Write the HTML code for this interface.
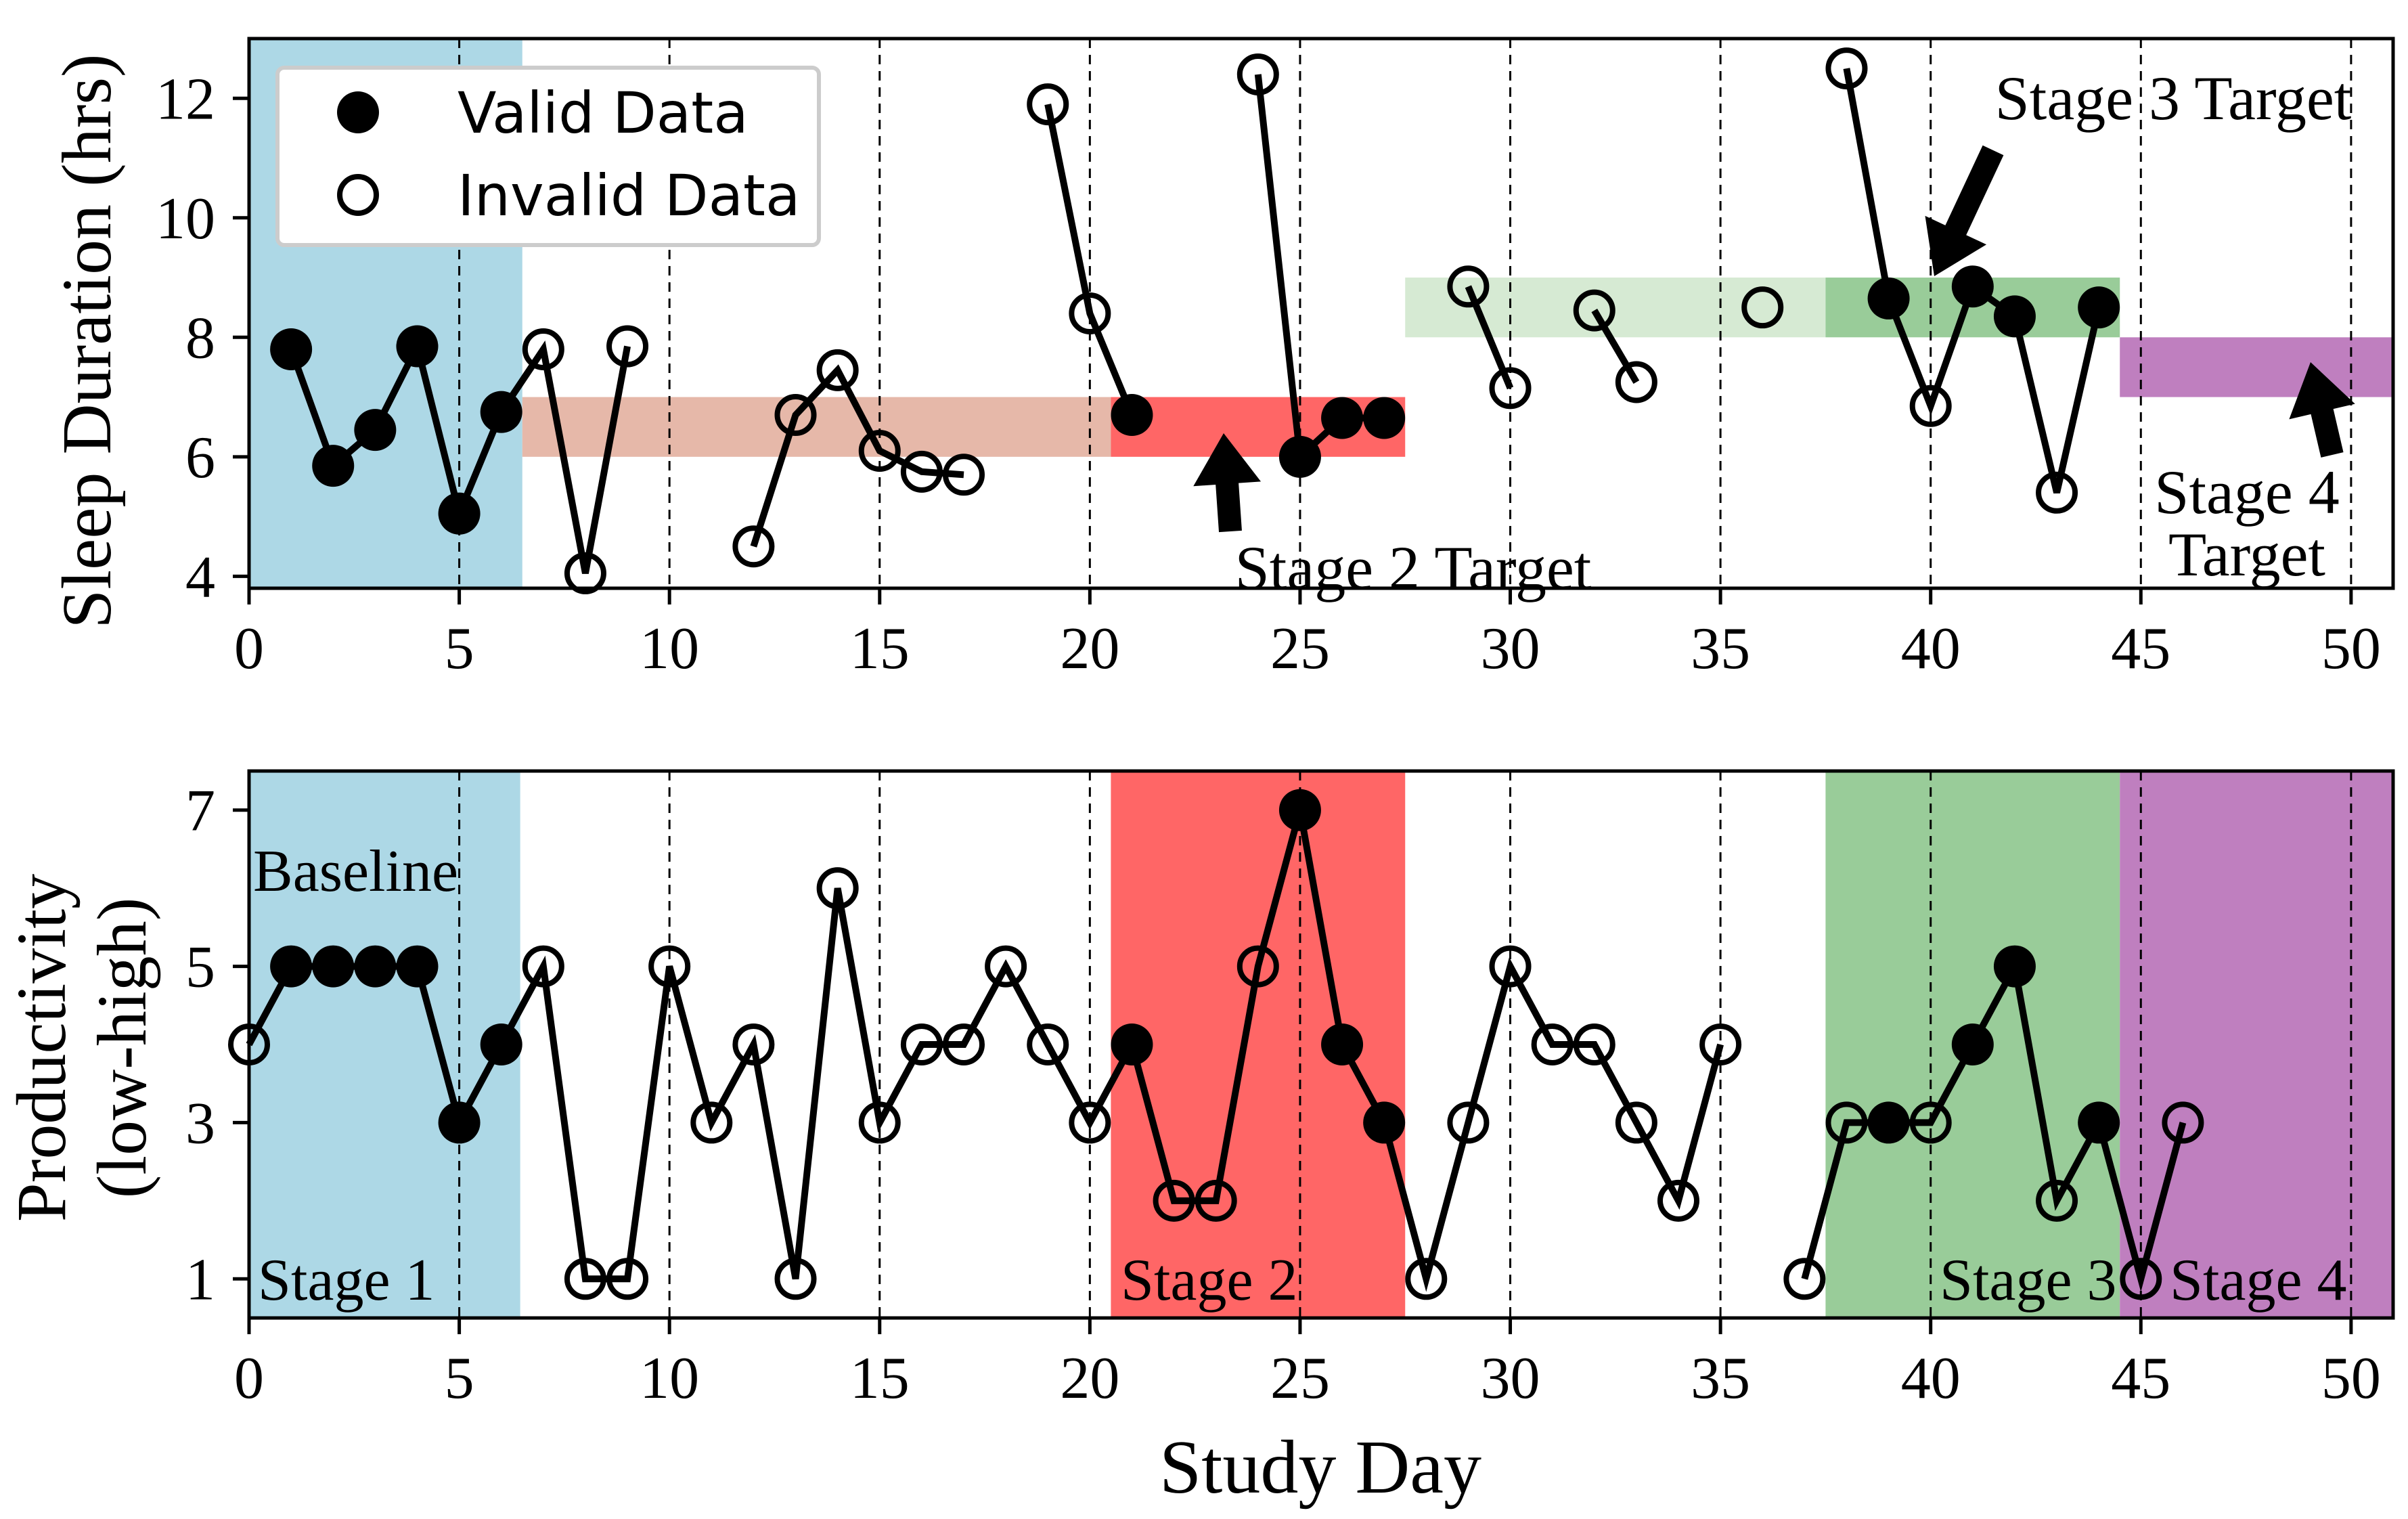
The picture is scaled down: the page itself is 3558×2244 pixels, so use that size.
<!DOCTYPE html>
<html><head><meta charset="utf-8"><style>
html,body{margin:0;padding:0;background:#fff}
svg{display:block}
.serif{font-family:"Liberation Serif",serif}
.sans{font-family:"DejaVu Sans","Liberation Sans",sans-serif}
</style></head><body>
<svg id="chart" width="3558" height="2244" viewBox="0 0 3558 2244" xmlns="http://www.w3.org/2000/svg">
<g id="topPanel"></g>
<g id="botPanel"></g>
<text class="serif" x="1951" y="2205" font-size="112" text-anchor="middle">Study Day</text>
<text class="serif" transform="translate(163,504) rotate(-90)" font-size="104" text-anchor="middle">Sleep Duration (hrs)</text>
<text class="serif" transform="translate(96,1548) rotate(-90)" font-size="104" text-anchor="middle">Productivity</text>
<text class="serif" transform="translate(215,1548) rotate(-90)" font-size="104" text-anchor="middle">(low-high)</text>
</svg>
<script>
const sleepDays = [1,2,3,4,5,6,7,8,9,10,11,12,13,14,15,16,17,18,19,20,21,22,23,24,25,26,27,28,29,30,31,32,33,34,35,36,37,38,39,40,41,42,43,44];
const sleepValues = [7.8,5.85,6.45,7.85,5.05,6.75,7.8,4.05,7.85,null,null,4.5,6.7,7.45,6.1,5.75,5.7,null,11.9,8.4,6.7,null,null,12.4,6.0,6.65,6.65,null,8.85,7.15,null,8.45,7.25,null,null,8.5,null,12.5,8.65,6.85,8.85,8.35,5.4,8.5];
const sleepValid = [1,1,1,1,1,1,0,0,0,0,0,0,0,0,0,0,0,0,0,0,1,0,0,0,1,1,1,0,0,0,0,0,0,0,0,0,0,0,1,0,1,1,0,1];
const prodDays = [0,1,2,3,4,5,6,7,8,9,10,11,12,13,14,15,16,17,18,19,20,21,22,23,24,25,26,27,28,29,30,31,32,33,34,35,36,37,38,39,40,41,42,43,44,45,46];
const prodValues = [4,5,5,5,5,3,4,5,1,1,5,3,4,1,6,3,4,4,5,4,3,4,2,2,5,7,4,3,1,3,5,4,4,3,2,4,null,1,3,3,3,4,5,2,3,1,3];
const prodValid = [0,1,1,1,1,1,1,0,0,0,0,0,0,0,0,0,0,0,0,0,0,1,0,0,0,1,1,1,0,0,0,0,0,0,0,0,0,0,0,1,0,1,1,0,1,0,0];
const xTicks = [0,5,10,15,20,25,30,35,40,45,50];
const topYTicks = [4,6,8,10,12];
const botYTicks = [1,3,5,7];

const NS="http://www.w3.org/2000/svg";
const X0=368, X1=3536, XMIN=0, XMAX=51;
const xs = v => X0 + (v-XMIN)/(XMAX-XMIN)*(X1-X0);
const T={top:57,bot:869,min:3.8,max:13};
const B={top:1139,bot:1947,min:0.5,max:7.5};
const ysT = v => T.bot - (v-T.min)/(T.max-T.min)*(T.bot-T.top);
const ysB = v => B.bot - (v-B.min)/(B.max-B.min)*(B.bot-B.top);
function mk(parent,tag,attrs){const e=document.createElementNS(NS,tag);for(const k in attrs)e.setAttribute(k,attrs[k]);parent.appendChild(e);return e;}

function panel(g,P,ys,rects,yTicks,days,vals,valid,prefix){
  for(const r of rects){
    const e=mk(g,'rect',{x:xs(r[0]),y:ys(Math.min(r[3],P.max)),width:xs(r[1])-xs(r[0]),height:ys(Math.max(r[2],P.min))-ys(Math.min(r[3],P.max)),fill:r[4]});
    
    
  }
  for(let d=5;d<=50;d+=5){
    const e=mk(g,'line',{x1:xs(d),x2:xs(d),y1:P.top,y2:P.bot,stroke:'#000','stroke-width':3,'stroke-dasharray':'14,10'});
    
    
  }
  let dstr='',pen=false;
  for(let i=0;i<days.length;i++){
    if(vals[i]===null){pen=false;continue;}
    dstr+=(pen?'L':'M')+xs(days[i])+','+ys(vals[i]);pen=true;
  }
  const ln=mk(g,'path',{d:dstr,fill:'none',stroke:'#000','stroke-width':10,'stroke-linejoin':'miter'});
  
  
  for(let i=0;i<days.length;i++){
    if(vals[i]===null)continue;
    const c=mk(g,'circle',valid[i]?{cx:xs(days[i]),cy:ys(vals[i]),r:31,fill:'#000'}:{cx:xs(days[i]),cy:ys(vals[i]),r:27,fill:'none',stroke:'#000','stroke-width':8});
    
    
  }
  const fr=mk(g,'rect',{x:X0,y:P.top,width:X1-X0,height:P.bot-P.top,fill:'none',stroke:'#000','stroke-width':5});
  
  
  for(const t of xTicks){
    mk(g,'line',{x1:xs(t),x2:xs(t),y1:P.bot,y2:P.bot+24,stroke:'#000','stroke-width':5});
    const tx=mk(g,'text',{x:xs(t),y:P.bot+118,'font-size':88,'text-anchor':'middle',class:'serif'});
    tx.textContent=t;
    
    
  }
  for(const t of yTicks){
    mk(g,'line',{x1:X0-24,x2:X0,y1:ys(t),y2:ys(t),stroke:'#000','stroke-width':5});
    const tx=mk(g,'text',{x:X0-50,y:ys(t)+30,'font-size':88,'text-anchor':'end',class:'serif'});
    tx.textContent=t;
    
    
  }
}
const gTop=document.getElementById('topPanel'), gBot=document.getElementById('botPanel');
panel(gTop,T,ysT,[[0,6.5,3.8,13,'#add8e6'],[6.5,20.5,6,7,'#e6b8a9'],[20.5,27.5,6,7,'#ff6666'],[27.5,37.5,8,9,'#d6ead3'],[37.5,44.5,8,9,'#99cc99'],[44.5,51,7,8,'#bf7fbf']],topYTicks,sleepDays,sleepValues,sleepValid,'sleep');
panel(gBot,B,ysB,[[0,6.45,0.5,7.5,'#add8e6'],[20.5,27.5,0.5,7.5,'#ff6666'],[37.5,44.5,0.5,7.5,'#99cc99'],[44.5,51,0.5,7.5,'#bf7fbf']],botYTicks,prodDays,prodValues,prodValid,'prod');

function arrow(x1,y1,x2,y2,name){
  const dx=x2-x1,dy=y2-y1,L=Math.hypot(dx,dy),ux=dx/L,uy=dy/L,px=-uy,py=ux;
  const sw=17,hw=50,hl=75;
  const bx=x2-ux*hl,by=y2-uy*hl;
  const pts=[[x1+px*sw,y1+py*sw],[bx+px*sw,by+py*sw],[bx+px*hw,by+py*hw],[x2,y2],[bx-px*hw,by-py*hw],[bx-px*sw,by-py*sw],[x1-px*sw,y1-py*sw]];
  const e=mk(gTop,'polygon',{points:pts.map(p=>p.join(',')).join(' '),fill:'#000'});
  
  
}
arrow(1818,785,1808,640,'stage-2-target-arrow');
arrow(2945,222,2858,408,'stage-3-target-arrow');
arrow(3446,672,3414,535,'stage-4-target-arrow');

function label(g,x,y,txt,anchor,name,size){
  const e=mk(g,'text',{x:x,y:y,'font-size':size||88,'text-anchor':anchor,class:'serif'});
  e.textContent=txt;
  
  
}
label(gTop,2088,870,'Stage 2 Target','middle','stage-2-target-label',92);
label(gTop,3211,176,'Stage 3 Target','middle','stage-3-target-label',92);
label(gTop,3320,758,'Stage 4','middle','stage-4-target-label',92);
label(gTop,3320,850,'Target','middle','stage-4-target-label-line2',92);
label(gBot,374,1316,'Baseline','start','baseline-label');
label(gBot,381,1920,'Stage 1','start','stage-1-label');
label(gBot,1656,1920,'Stage 2','start','stage-2-label');
label(gBot,2866,1920,'Stage 3','start','stage-3-label');
label(gBot,3206,1920,'Stage 4','start','stage-4-label');

const lg=mk(gTop,'g',{});


mk(lg,'rect',{x:410,y:100,width:800,height:262,rx:10,fill:'#fff',stroke:'#cccccc','stroke-width':6});
const m1=mk(lg,'circle',{cx:529,cy:166,r:31,fill:'#000'});


const m2=mk(lg,'circle',{cx:529,cy:288,r:27,fill:'none',stroke:'#000','stroke-width':8});


const t1=mk(lg,'text',{x:676,y:196,'font-size':84,class:'sans'});t1.textContent='Valid Data';


const t2=mk(lg,'text',{x:676,y:318,'font-size':84,class:'sans'});t2.textContent='Invalid Data';


</script>
</body></html>
